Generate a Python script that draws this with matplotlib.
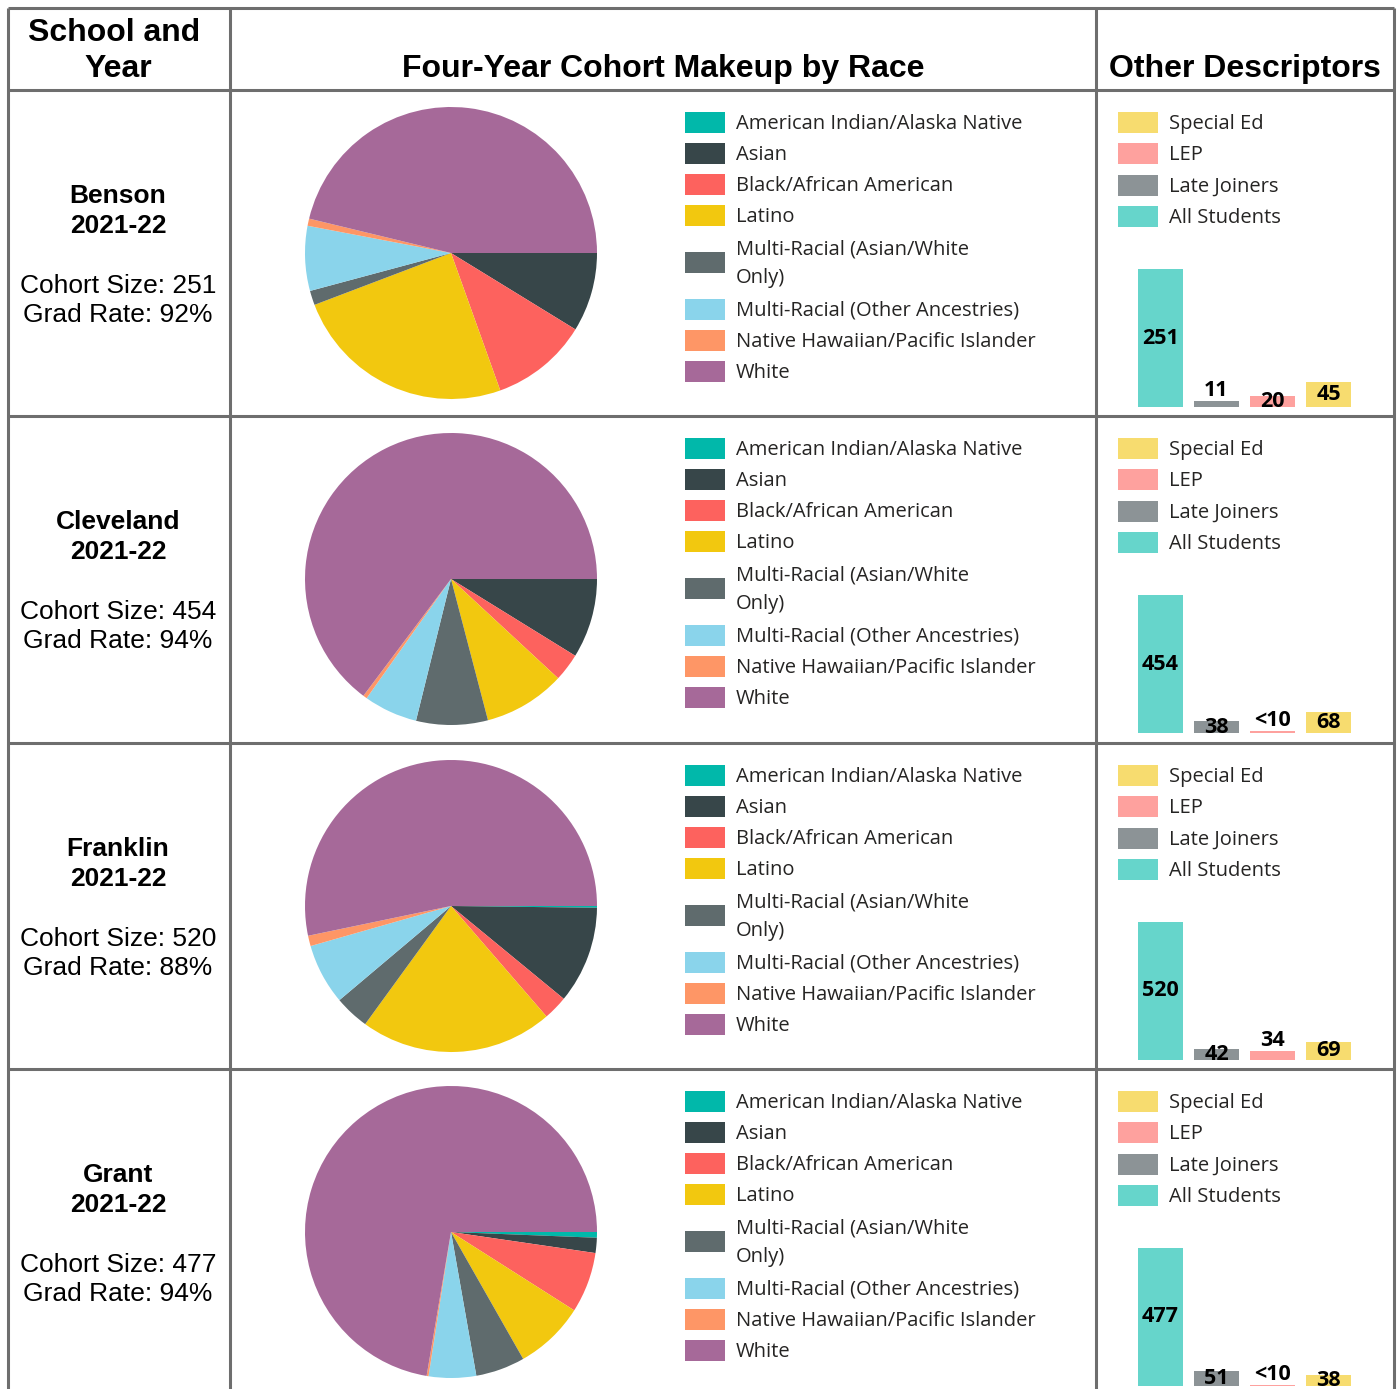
import matplotlib
matplotlib.use("Agg")
import matplotlib.pyplot as plt
from matplotlib.patches import Rectangle

# data
schools = ["Benson", "Cleveland", "Franklin", "Grant"]
year = "2021-22"
cohort_size = [251, 454, 520, 477]
grad_rate = [92, 94, 88, 94]

races = ["American Indian/Alaska Native", "Asian", "Black/African American", "Latino",
         "Multi-Racial (Asian/White Only)", "Multi-Racial (Other Ancestries)",
         "Native Hawaiian/Pacific Islander", "White"]
race_colors = ["#01B8AA", "#374649", "#FD625E", "#F2C80F",
               "#5F6B6D", "#8AD4EB", "#FE9666", "#A66999"]
race_counts = [
    [0, 22, 27, 62, 4, 18, 2, 116],      # Benson
    [0, 40, 14, 41, 36, 27, 2, 294],     # Cleveland
    [1, 56, 14, 111, 20, 35, 6, 277],    # Franklin
    [3, 8, 32, 37, 26, 25, 1, 345],      # Grant
]

descriptors = ["All Students", "Late Joiners", "LEP", "Special Ed"]
desc_colors = ["#66D5CB", "#8C9396", "#FEA19E", "#F7DC6F"]
desc_counts = [
    [251, 11, 20, 45],
    [454, 38, 5, 68],
    [520, 42, 34, 69],
    [477, 51, 5, 38],
]
desc_labels = [
    ["251", "11", "20", "45"],
    ["454", "38", "<10", "68"],
    ["520", "42", "34", "69"],
    ["477", "51", "<10", "38"],
]
# where the data label sits: inside (centred) or above the bar
desc_label_pos = [
    ["in", "above", "in", "in"],
    ["in", "in", "above", "in"],
    ["in", "in", "above", "in"],
    ["in", "in", "above", "in"],
]

W, H = 1398, 1389
fig = plt.figure(figsize=(W / 100, H / 100), dpi=100)
fig.patch.set_facecolor("white")

# full-figure axes in pixel coords for the table grid and text
bg = fig.add_axes([0, 0, 1, 1])
bg.set_xlim(0, W)
bg.set_ylim(H, 0)
bg.axis("off")


def px_axes(x0, y0, w, h):
    # pixel box (top-left origin) -> figure axes
    return fig.add_axes([x0 / W, 1 - (y0 + h) / H, w / W, h / H])


line_kw = dict(color="#6E6E6E", lw=2.2, solid_capstyle="butt", zorder=5)
col_x = [8, 230, 1096, 1394]
row_y = [90, 416, 743, 1069]
bg.plot([8, 1394], [8, 8], **line_kw)
for x in col_x:
    bg.plot([x, x], [8, H], **line_kw)
for y in row_y:
    bg.plot([8, 1394], [y, y], **line_kw)

hdr = dict(family="Liberation Sans", fontsize=23, fontweight="bold", ha="center", va="center")
bg.text(114, 33, "School and", **hdr)
bg.text(118, 69, "Year", **hdr)
bg.text(663, 69, "Four-Year Cohort Makeup by Race", **hdr)
bg.text(1245, 69, "Other Descriptors", **hdr)

row_h = 326
leg_font = dict(family="Open Sans", fontsize=14.5, va="center", color="#252423")

for i, school in enumerate(schools):
    top = row_y[i]
    mid = top + row_h / 2

    # left column
    bg.text(118, top + 106, school, family="Liberation Sans", fontsize=19,
            fontweight="bold", ha="center", va="center")
    bg.text(118, top + 136, year, family="Liberation Sans", fontsize=19,
            fontweight="bold", ha="center", va="center")
    bg.text(118, top + 196, f"Cohort Size: {cohort_size[i]}", family="Liberation Sans",
            fontsize=19, ha="center", va="center")
    bg.text(118, top + 225, f"Grad Rate: {grad_rate[i]}%", family="Liberation Sans",
            fontsize=19, ha="center", va="center")

    # pie
    r = 146
    pax = px_axes(451 - r, mid - r, 2 * r, 2 * r)
    pax.pie(race_counts[i], colors=race_colors, startangle=0, counterclock=False,
            radius=1, wedgeprops=dict(linewidth=0))
    pax.set_xlim(-1, 1)
    pax.set_ylim(-1, 1)
    pax.set_aspect("equal")
    pax.axis("off")

    # race legend
    k = 0
    for name, c in zip(races, race_colors):
        label = name
        if name.startswith("Multi-Racial (Asian"):
            label = "Multi-Racial (Asian/White\nOnly)"
        nlines = label.count("\n") + 1
        y = top + 33 + 31.1 * k + 31.1 * (nlines - 1) / 2
        bg.add_patch(Rectangle((685, y - 11), 40, 21, facecolor=c, edgecolor="none"))
        bg.text(736, y + 1, label, linespacing=1.55, **leg_font)
        k += nlines

    # descriptor legend (reverse order)
    for j, (name, c) in enumerate(zip(descriptors[::-1], desc_colors[::-1])):
        y = top + 33 + 31.3 * j
        bg.add_patch(Rectangle((1118, y - 11), 40, 21, facecolor=c, edgecolor="none"))
        bg.text(1169, y + 1, name, **leg_font)

    # descriptor bars
    bar_bottom = top + row_h - 9
    bar_h = 138
    unit = 56
    bax = px_axes(1160.5 - 0.6 * unit, bar_bottom - bar_h, 4.2 * unit, bar_h)
    xs = range(len(descriptors))
    vals = desc_counts[i]
    bax.bar(xs, vals, width=0.8, color=desc_colors)
    bax.set_xlim(-0.6, 3.6)
    bax.set_ylim(0, max(vals))
    bax.axis("off")
    for x, v, lab, pos in zip(xs, vals, desc_labels[i], desc_label_pos[i]):
        if pos == "in":
            bax.text(x, v / 2, lab, ha="center", va="center", family="Open Sans",
                     fontsize=15.5, fontweight="bold", clip_on=False)
        else:
            bax.annotate(lab, (x, v), xytext=(0, 0), textcoords="offset points",
                         ha="center", va="bottom", family="Open Sans",
                         fontsize=15.5, fontweight="bold", annotation_clip=False)

fig.savefig("out.png", dpi=100, facecolor="white")
